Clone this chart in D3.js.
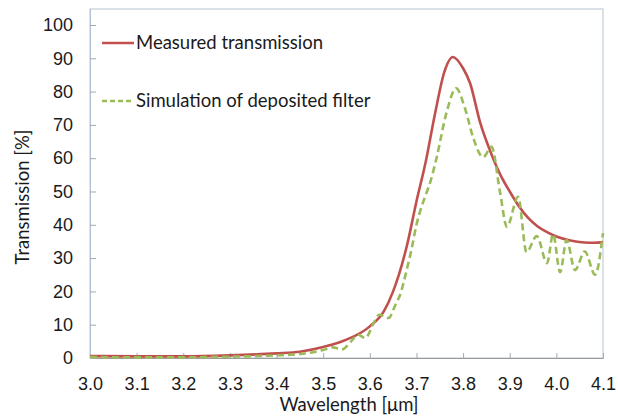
<!DOCTYPE html>
<html>
<head>
<meta charset="utf-8">
<script src="https://cdn.jsdelivr.net/npm/d3@7"></script>
<style>
  body { margin: 0; background: #fff; }
  svg { font-family: Lato, "Open Sans", sans-serif; }
</style>
</head>
<body>
<svg id="chart"></svg>
<script>
// wavelength [um] and transmission [%]
let measuredWl = [3.00, 3.10, 3.20, 3.30, 3.40, 3.45, 3.50, 3.55, 3.60, 3.63, 3.65, 3.68, 3.70, 3.72, 3.74, 3.76, 3.778, 3.80, 3.815, 3.836, 3.86, 3.88, 3.90, 3.92, 3.94, 3.96, 3.98, 4.00, 4.03, 4.06, 4.08, 4.10]
let measuredT = [0.6, 0.5, 0.5, 0.8, 1.4, 1.9, 3.3, 5.5, 9.5, 14, 20, 34, 47, 59, 73.5, 86, 90.4, 87, 82.5, 71, 61.5, 55, 50, 45.5, 42, 39.5, 37.8, 36.5, 35.3, 34.7, 34.6, 34.8]

let simWl = [3.00, 3.10, 3.20, 3.30, 3.40, 3.45, 3.50, 3.52, 3.54, 3.56, 3.575, 3.59, 3.61, 3.62, 3.64, 3.655, 3.665, 3.68, 3.69, 3.70, 3.71, 3.72, 3.73, 3.743, 3.765, 3.785, 3.804, 3.822, 3.843, 3.861, 3.879, 3.894, 3.918, 3.936, 3.958, 3.98, 3.993, 4.008, 4.022, 4.04, 4.061, 4.083, 4.10]
let simT = [0.3, 0.2, 0.2, 0.4, 0.8, 1.2, 2.4, 3.2, 2.6, 5, 7, 6, 11, 13, 12, 16, 19, 27, 33, 40, 45, 49, 53, 60, 74, 81, 75, 66, 60.3, 63.4, 50, 39.4, 48.4, 31.8, 36.6, 28.5, 37.2, 25.8, 35.4, 26.4, 32, 25, 37.5]

let xTicks = [3.0, 3.1, 3.2, 3.3, 3.4, 3.5, 3.6, 3.7, 3.8, 3.9, 4.0, 4.1]
let yTicks = [0, 10, 20, 30, 40, 50, 60, 70, 80, 90, 100]

let opts = {
    width: 618,
    height: 418,
    left: 90,
    right: 603,
    top: 9,
    bottom: 358,
    fontSize: 18.5,
}

let svg = d3.select('#chart')
    .attr('width', opts.width)
    .attr('height', opts.height)

let x = d3.scaleLinear().domain([3.0, 4.1]).range([opts.left, opts.right])
let y = d3.scaleLinear().domain([0, 104.8]).range([opts.bottom, opts.top])

// plot frame
svg.append('rect')
    .attr('x', opts.left)
    .attr('y', opts.top)
    .attr('width', opts.right - opts.left)
    .attr('height', opts.bottom - opts.top)
    .attr('fill', 'none')
    .attr('stroke', '#b3c3d3')
    .attr('stroke-width', 1)

// axes, ticks pointing inward
let xAxis = svg.append('g')
    .attr('transform', 'translate(0,' + opts.bottom + ')')
    .call(d3.axisBottom(x).tickValues(xTicks).tickSizeInner(-5).tickSizeOuter(0).tickFormat(d3.format('.1f')))
xAxis.select('.domain').attr('stroke', '#9a9a9a')
xAxis.selectAll('.tick line').attr('stroke', '#a8a8a8')
xAxis.selectAll('.tick text')
    .attr('y', 19)
    .attr('font-size', 18)
    .attr('fill', '#1a1a1a')

let yAxis = svg.append('g')
    .attr('transform', 'translate(' + opts.left + ',0)')
    .call(d3.axisLeft(y).tickValues(yTicks).tickSizeInner(-6).tickSizeOuter(0))
yAxis.select('.domain').attr('stroke', '#b3c3d3')
yAxis.selectAll('.tick line').attr('stroke', '#a8a8a8')
yAxis.selectAll('.tick text')
    .attr('x', -17)
    .attr('font-size', 18)
    .attr('fill', '#1a1a1a')

// axis titles
svg.append('text')
    .attr('x', 349)
    .attr('y', 411)
    .attr('text-anchor', 'middle')
    .attr('font-size', opts.fontSize)
    .attr('fill', '#1a1a1a')
    .text('Wavelength [\u03bcm]')

svg.append('text')
    .attr('transform', 'translate(29,197) rotate(-90)')
    .attr('text-anchor', 'middle')
    .attr('font-size', opts.fontSize)
    .attr('fill', '#1a1a1a')
    .text('Transmission [%]')

let line = d3.line()
    .x(d => x(d[0]))
    .y(d => y(d[1]))
    .curve(d3.curveMonotoneX)

svg.append('path')
    .datum(d3.zip(measuredWl, measuredT))
    .attr('d', line)
    .attr('fill', 'none')
    .attr('stroke', '#c0504d')
    .attr('stroke-width', 2.6)

svg.append('path')
    .datum(d3.zip(simWl, simT))
    .attr('d', line)
    .attr('fill', 'none')
    .attr('stroke', '#9bbb59')
    .attr('stroke-width', 2.6)
    .attr('stroke-dasharray', '7,4')

// legend
let legend = [
    { label: 'Measured transmission', color: '#c0504d', dash: null, y: 43 },
    { label: 'Simulation of deposited filter', color: '#9bbb59', dash: '5,3', y: 101 },
]
let lg = svg.selectAll('.legend').data(legend).enter().append('g').attr('class', 'legend')
lg.append('line')
    .attr('x1', 102).attr('x2', 134)
    .attr('y1', d => d.y).attr('y2', d => d.y)
    .attr('stroke', d => d.color)
    .attr('stroke-width', 2.5)
    .attr('stroke-dasharray', d => d.dash)
lg.append('text')
    .attr('x', 136)
    .attr('y', d => d.y + 6)
    .attr('font-size', opts.fontSize)
    .attr('fill', '#1a1a1a')
    .text(d => d.label)
</script>
</body>
</html>
